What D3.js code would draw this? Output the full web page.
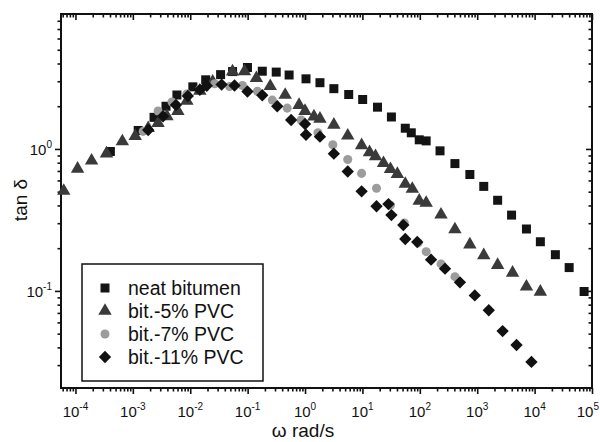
<!DOCTYPE html>
<html><head><meta charset="utf-8">
<script src="https://cdn.jsdelivr.net/npm/d3@7"></script>
<style>body{margin:0;background:#fff}svg{display:block}text{font-family:"Liberation Sans",Arial,sans-serif}</style>
</head><body><svg id="c" width="600" height="442"></svg>
<script>
// ---- data ----
const omegaNeat = [4.06e-4,1.24e-3,2.34e-3,3.78e-3,5.86e-3,0.0111,0.0186,0.0338,0.0546,0.0993,0.180,0.315,0.528,1.04,1.82,3.18,5.77,10.1,18.3,32.0,55.8,71.0,97.7,129,225,409,745,1300,2270,3970,7210,12600,23000,40000,72800];
const tanNeat   = [0.96,1.35,1.67,2.00,2.40,2.74,3.07,3.34,3.51,3.75,3.53,3.48,3.32,3.12,2.93,2.66,2.42,2.23,1.97,1.68,1.40,1.30,1.16,1.14,0.97,0.789,0.661,0.545,0.435,0.342,0.273,0.222,0.180,0.146,0.099];

const omegaPVC5 = [6.25e-5,1.09e-4,1.91e-4,3.47e-4,6.56e-4,1.10e-3,1.85e-3,2.75e-3,3.93e-3,6.09e-3,8.73e-3,0.0147,0.0246,0.0546,0.0881,0.142,0.248,0.451,0.787,1.0,1.43,1.82,3.18,5.55,9.68,13.3,16.9,23.3,30.8,40.6,55.8,74.0,97.7,129,234,409,745,1300,2270,4130,7210,12600];
const tanPVC5   = [0.506,0.725,0.827,0.928,1.13,1.23,1.40,1.52,1.70,1.85,2.18,2.57,2.98,3.51,3.52,3.15,2.77,2.40,2.04,1.85,1.69,1.63,1.48,1.24,1.06,0.947,0.888,0.794,0.721,0.665,0.567,0.523,0.431,0.417,0.344,0.271,0.212,0.178,0.152,0.134,0.107,0.0986];

const omegaPVC7 = [1.51e-3,2.75e-3,4.81e-3,8.73e-3,0.0147,0.0267,0.0484,0.0813,0.148,0.269,0.489,0.853,1.68,3.05,5.55,9.68,17.6,30.8,53.7,93.8,129,234,409];
const tanPVC7   = [1.33,1.85,2.14,2.44,2.65,2.88,2.75,2.80,2.55,2.21,1.94,1.60,1.30,1.07,0.843,0.673,0.529,0.402,0.301,0.218,0.189,0.155,0.126];

const omegaPVC11 = [1.85e-3,3.36e-3,5.64e-3,9.08e-3,0.0147,0.0194,0.0352,0.0591,0.0993,0.180,0.328,0.573,1.0,1.04,1.82,3.18,5.55,9.68,17.6,28.4,32.0,51.6,55.8,90.2,157,275,500,908,1590,2770,4840,8810];
const tanPVC11   = [1.36,1.70,2.04,2.36,2.61,2.79,2.84,2.80,2.54,2.39,2.00,1.60,1.50,1.26,1.22,0.927,0.694,0.503,0.395,0.409,0.342,0.291,0.232,0.221,0.166,0.1435,0.115,0.0930,0.0731,0.0521,0.0416,0.0316];

const seriesNames = ["neat bitumen","bit.-5% PVC","bit.-7% PVC","bit.-11% PVC"];
const xMajorExp = [-4,-3,-2,-1,0,1,2,3,4,5];
const yMajorExp = [-1,0];
const xTitle = "ω rad/s";
const yTitle = "tan δ";

// ---- layout ----
const L=61,R=592,T=14,B=388;
const svg = d3.select("#c");
const x = d3.scaleLog().domain([5.6e-5,1e5]).range([L,R]);
const y = d3.scaleLog().domain([0.0207,8.93]).range([B,T]);

const xMajor = xMajorExp.map(e=>Math.pow(10,e));
const yMajor = yMajorExp.map(e=>Math.pow(10,e));
const minorOf = (dom) => {
  const out=[];
  for(let e=-6;e<=6;e++) for(let m=2;m<=9;m++){const v=m*Math.pow(10,e); if(v>=dom[0]&&v<=dom[1]) out.push(v);}
  return out;
};
const xMinor = minorOf(x.domain());
const yMinor = minorOf(y.domain());

function styleAxis(g){
  g.select(".domain").remove();
  g.selectAll("line").attr("stroke","#111").attr("stroke-width",1.6);
}
// bottom (outside), top (inside)
[B,T].forEach(yy=>{
  svg.append("g").attr("transform",`translate(0,${yy})`).call(d3.axisBottom(x).tickValues(xMajor).tickSize(6).tickFormat("")).call(styleAxis);
  svg.append("g").attr("transform",`translate(0,${yy})`).call(d3.axisBottom(x).tickValues(xMinor).tickSize(3.5).tickFormat("")).call(styleAxis);
});
// left (outside), right (inside)
[L,R].forEach(xx=>{
  svg.append("g").attr("transform",`translate(${xx},0)`).call(d3.axisLeft(y).tickValues(yMajor).tickSize(6).tickFormat("")).call(styleAxis);
  svg.append("g").attr("transform",`translate(${xx},0)`).call(d3.axisLeft(y).tickValues(yMinor).tickSize(3.5).tickFormat("")).call(styleAxis);
});
// frame
svg.append("rect").attr("x",L).attr("y",T).attr("width",R-L).attr("height",B-T)
  .attr("fill","none").attr("stroke","#111").attr("stroke-width",2);

// tick labels
xMajorExp.forEach((e,i)=>{
  const last = i===xMajorExp.length-1;
  const t = svg.append("text").attr("x",last?599:x(Math.pow(10,e))).attr("y",417)
    .attr("text-anchor",last?"end":"middle").attr("fill","#111").attr("font-size",15);
  t.append("tspan").text("10");
  t.append("tspan").attr("font-size",10).attr("dy",-7).text(String(e));
});
yMajorExp.forEach(e=>{
  const t = svg.append("text").attr("x",52).attr("y",y(Math.pow(10,e))+6).attr("text-anchor","end").attr("fill","#111").attr("font-size",15);
  t.append("tspan").text("10");
  t.append("tspan").attr("font-size",10).attr("dy",-7).text(String(e));
});

// titles
svg.append("text").attr("x",303).attr("y",437).attr("text-anchor","middle").attr("font-size",19).attr("fill","#111").text(xTitle);
svg.append("text").attr("transform","translate(27,200) rotate(-90)").attr("text-anchor","middle").attr("font-size",19).attr("fill","#111").text(yTitle);

// markers
const styles = [
  {type:d3.symbolSquare, size:81, fill:"#141414", rot:0},
  {type:d3.symbolTriangle, size:78, fill:"#3a3a3a", rot:0},
  {type:d3.symbolCircle, size:64, fill:"#9c9c9c", rot:0},
  {type:d3.symbolSquare, size:76, fill:"#111", rot:45}
];
const sets = [[omegaNeat,tanNeat],[omegaPVC5,tanPVC5],[omegaPVC7,tanPVC7],[omegaPVC11,tanPVC11]];
sets.forEach(([xs,ys],i)=>{
  const s = styles[i];
  const pts = xs.map((v,j)=>({w:v,t:ys[j]}));
  svg.append("g").selectAll("path").data(pts).join("path")
    .attr("d",d3.symbol().type(s.type).size(s.size))
    .attr("transform",d=>`translate(${x(d.w)},${y(d.t)}) rotate(${s.rot})`)
    .attr("fill",s.fill);
});

// legend
svg.append("rect").attr("x",82).attr("y",264).attr("width",181).attr("height",117)
  .attr("fill","#fff").attr("stroke","#111").attr("stroke-width",1.5);
const rowY = [288,311,334,357];
seriesNames.forEach((n,i)=>{
  const s = styles[i];
  svg.append("path").attr("d",d3.symbol().type(s.type).size(s.size))
    .attr("transform",`translate(105,${rowY[i]}) rotate(${s.rot})`).attr("fill",s.fill);
  svg.append("text").attr("x",128).attr("y",rowY[i]+7).attr("font-size",19.5).attr("fill","#111").text(n);
});
</script></body></html>
